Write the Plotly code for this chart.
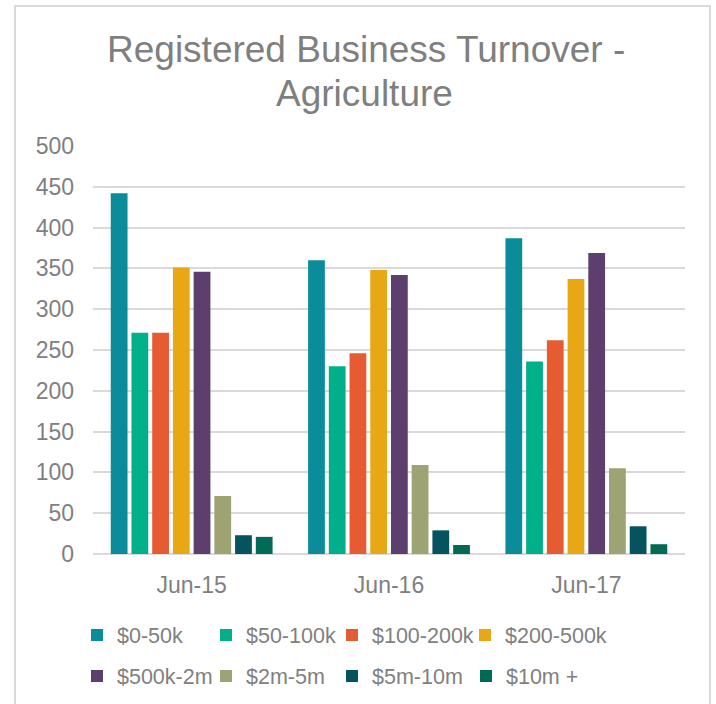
import plotly.graph_objects as go

periods = ["Jun-15", "Jun-16", "Jun-17"]
bands = ["$0-50k", "$50-100k", "$100-200k", "$200-500k",
         "$500k-2m", "$2m-5m", "$5m-10m", "$10m +"]
v_0_50k = [442, 360, 387]
v_50_100k = [271, 230, 236]
v_100_200k = [271, 246, 262]
v_200_500k = [351, 348, 337]
v_500k_2m = [346, 342, 369]
v_2m_5m = [71, 109, 105]
v_5m_10m = [23, 29, 34]
v_10m_plus = [21, 11, 12]
series = [v_0_50k, v_50_100k, v_100_200k, v_200_500k,
          v_500k_2m, v_2m_5m, v_5m_10m, v_10m_plus]
colors = ["#0A8C9B", "#00B08A", "#E75B33", "#E8A815",
          "#5C3F6D", "#9DA373", "#05535E", "#006B54"]
y_ticks = [0, 50, 100, 150, 200, 250, 300, 350, 400, 450, 500]
title_lines = ["Registered Business Turnover -", "Agriculture"]

FONT = "Liberation Sans, Arial, sans-serif"
GRAY = "#808080"

W, H = 716, 704
ml, mr, mt, mb = 93, 31, 146, 150
pw, ph = W - ml - mr, H - mt - mb

def px_x(p):
    return (p - ml) / pw

def px_y(p):
    return (H - mb - p) / ph

# legend entry placement (pixel positions of the swatches)
swatch_x = [92, 221, 347, 480, 92, 221, 347, 481]
row_y = [635, 635, 635, 635, 676, 676, 676, 676]

fig = go.Figure()
legend_layout = {}
for i, (name, vals, col) in enumerate(zip(bands, series, colors)):
    lname = "legend" if i == 0 else f"legend{i + 1}"
    fig.add_trace(go.Bar(name=name, x=periods, y=vals, legend=lname,
                         showlegend=True,
                         marker=dict(color=col, line=dict(width=0))))
    legend_layout[lname] = dict(
        x=px_x(swatch_x[i] - 15), y=px_y(row_y[i]),
        xanchor="left", yanchor="middle", orientation="h",
        font=dict(size=21.5, color=GRAY), bgcolor="rgba(0,0,0,0)")

fig.update_layout(
    width=W, height=H, showlegend=True,
    margin=dict(l=ml, r=mr, t=mt, b=mb, autoexpand=False),
    paper_bgcolor="white", plot_bgcolor="white",
    barmode="group", bargap=0.16, bargroupgap=0.19,
    font=dict(family=FONT, color=GRAY, size=22),
    xaxis=dict(showgrid=False, ticks="", showline=False,
               tickfont=dict(size=23, color=GRAY), ticklabelstandoff=15),
    yaxis=dict(range=[0, 500], tickvals=y_ticks, showgrid=True,
               gridcolor="#d9d9d9", gridwidth=1.5, zeroline=True,
               zerolinecolor="#d9d9d9", zerolinewidth=1.5,
               tickfont=dict(size=23, color=GRAY), ticklabelstandoff=18,
               showline=False),
    annotations=[
        dict(text=title_lines[0], xref="paper", yref="paper",
             x=px_x(366), y=px_y(50), xanchor="center", yanchor="middle",
             showarrow=False, font=dict(size=37, color="#7f7f7f", family=FONT)),
        dict(text=title_lines[1], xref="paper", yref="paper",
             x=px_x(364), y=px_y(93), xanchor="center", yanchor="middle",
             showarrow=False, font=dict(size=37, color="#7f7f7f", family=FONT)),
    ],
    shapes=[dict(type="rect", xref="paper", yref="paper",
                 x0=px_x(15), x1=px_x(710), y0=px_y(712), y1=px_y(6),
                 line=dict(color="#d9d9d9", width=2), layer="below")],
    **legend_layout,
)

fig.write_html("out.html", config={"displayModeBar": False},
               post_script="document.body.style.margin='0px';")
